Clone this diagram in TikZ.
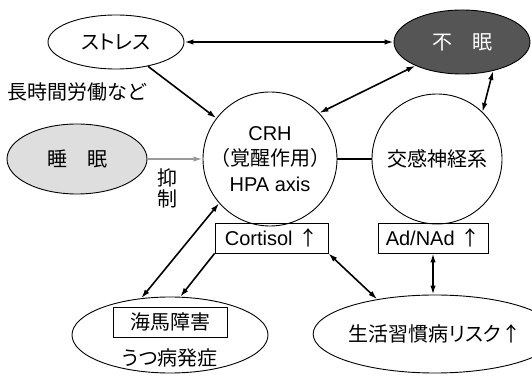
\documentclass[tikz,border=0pt]{standalone}
\usepackage{fontspec}
\setmainfont{Liberation Sans}
\newfontfamily\jp{Noto Sans CJK JP}
\newfontfamily\jpp[RawFeature=+palt]{Noto Sans CJK JP}
\usetikzlibrary{shapes.geometric,arrows.meta}
\definecolor{fumingray}{HTML}{555555}
\definecolor{suimingray}{HTML}{DEDEDE}
\definecolor{graycol}{HTML}{999999}
\begin{document}
\begin{tikzpicture}[x=1pt,y=1pt,
  every node/.style={font=\fontsize{20}{25}\selectfont},
  oval/.style={ellipse, draw, line width=0.9pt, inner sep=0pt},
  circ/.style={circle, draw, line width=0.9pt, inner sep=0pt, minimum size=#1},
  conn/.style={line width=1.6pt},
  biarrow/.style={conn, {Latex[length=9pt,width=5.5pt]}-{Latex[length=9pt,width=5.5pt]}},
  onearrow/.style={conn, -{Latex[length=9pt,width=5.5pt]}},
  box/.style={draw, line width=0.9pt, minimum height=30pt, inner sep=0pt}
]
\useasboundingbox (0,0) rectangle (532,377);
\node[oval, minimum width=136pt, minimum height=54pt] (stress) at (116,335) {\jpp ストレス};
\node[oval, fill=fumingray, text=white, minimum width=136pt, minimum height=64pt] (fumin) at (462,335) {\jp 不　眠};
\node[oval, fill=suimingray, minimum width=140pt, minimum height=70pt] (suimin) at (77,218) {\jp 睡　眠};
\node[circ=134pt] (crh) at (270,218) {};
\node[align=center, font=\fontsize{20}{25.5}\selectfont] (crhtext) at (crh) {CRH\\{\jp （覚醒作用）}\\HPA axis};
\node[circ=130pt] (kokan) at (437,218) {\jp 交感神経系};
\node (naga) at (77,285) {\jpp 長時間労働など};
\node (yoku) at (167,199) {\jp 抑};
\node (sei) at (167,178) {\jp 制};
\node[box, minimum width=113pt] (cort) at (271.5,139) {Cortisol {\jp ↑}};
\node[box, minimum width=110pt] (adnad) at (433,139) {Ad/NAd {\jp ↑}};
\node[oval, minimum width=196pt, minimum height=76pt] (kaiba) at (170,42) {};
\node[box, minimum width=114pt] (kaibabox) at (170,55) {\jp 海馬障害};
\node (utsu) at (170,19) {\jpp うつ病発症};
\node[oval, minimum width=192pt, minimum height=78pt] (seik) at (435,43) {\jpp 生活習慣病リスク{\jp ↑}};

\draw[biarrow] (stress) -- (fumin);
\draw[onearrow] (stress) -- (crh);
\draw[biarrow] (crh.43) -- (fumin.207);
\draw[biarrow] (fumin.-43) -- (kokan.46);
\draw[conn] (crh.east) -- (kokan.west);
\draw[onearrow, color=graycol] (suimin.east) -- (crh.west);
\draw[biarrow] (crh.221) -- (kaiba.128);
\draw[onearrow] (cort.south west) -- (kaiba.75);
\draw[biarrow] (cort.south east) -- (seik.149);
\draw[biarrow] (adnad.south) -- (adnad.south |- seik.north);
\end{tikzpicture}
\end{document}
